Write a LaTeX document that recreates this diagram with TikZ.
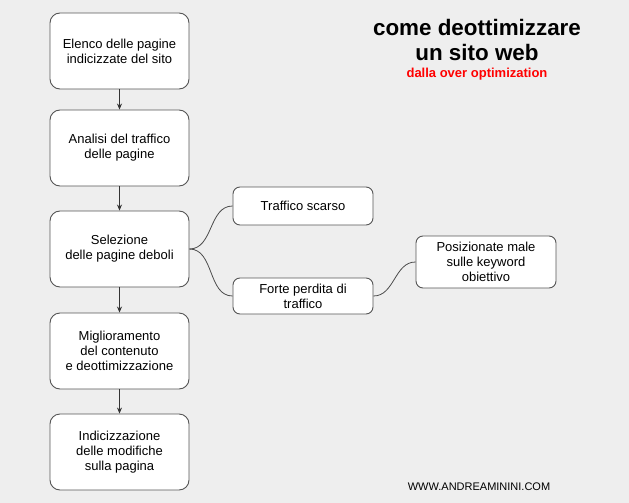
\documentclass[tikz,border=0pt]{standalone}
\usepackage{fontspec}
\setmainfont{Liberation Sans}
\usetikzlibrary{arrows.meta}
\definecolor{bg}{HTML}{EEEEEE}
\definecolor{edge}{HTML}{555555}
\tikzset{
  box/.style={draw=edge, line width=0.9pt, fill=white, rounded corners=10pt, minimum width=139pt, minimum height=76pt, align=center, font=\fontsize{13}{15}\selectfont, inner sep=2pt},
  sbox/.style={draw=edge, line width=0.9pt, fill=white, rounded corners=7pt, minimum width=140pt, align=center, font=\fontsize{13}{15}\selectfont, inner sep=2pt},
  flow/.style={draw=black!80, line width=0.7pt, -{Stealth[length=6pt,width=5pt]}},
  link/.style={draw=black!70, line width=0.8pt}
}
\begin{document}
\begin{tikzpicture}[x=1pt,y=1pt]
\fill[bg] (0,0) rectangle (629,-503);
\useasboundingbox (0,0) rectangle (629,-503);
\node[box] (b1) at (119.5,-51) {Elenco delle pagine\\indicizzate del sito};
\node[box] (b2) at (119.5,-148) {Analisi del traffico\\delle pagine};
\node[box] (b3) at (119.5,-249) {Selezione\\delle pagine deboli};
\node[box] (b4) at (119.5,-351) {Miglioramento\\del contenuto\\e deottimizzazione};
\node[box] (b5) at (119.5,-452) {Indicizzazione\\delle modifiche\\sulla pagina};
\node[sbox, minimum height=38pt] (t1) at (303,-206) {Traffico scarso};
\node[sbox, minimum height=36pt] (t2) at (303,-296) {Forte perdita di\\traffico};
\node[sbox, minimum height=52pt] (t3) at (486,-262) {Posizionate male\\sulle keyword\\obiettivo};
\draw[flow] (b1) -- (b2);
\draw[flow] (b2) -- (b3);
\draw[flow] (b3) -- (b4);
\draw[flow] (b4) -- (b5);
\draw[link] (b3.east) to[out=0,in=180] (t1.west);
\draw[link] (b3.east) to[out=0,in=180] (t2.west);
\draw[link] (t2.east) to[out=0,in=180] (t3.west);
\node[font=\bfseries\fontsize{22.4}{25}\selectfont, align=center] (title) at (477,-40) {come deottimizzare\\un sito web};
\node[font=\bfseries\fontsize{13}{15}\selectfont, text=red] (sub) at (477,-74) {dalla over optimization};
\node[font=\fontsize{11}{13}\selectfont] (site) at (479,-487) {WWW.ANDREAMININI.COM};
\end{tikzpicture}
\end{document}
